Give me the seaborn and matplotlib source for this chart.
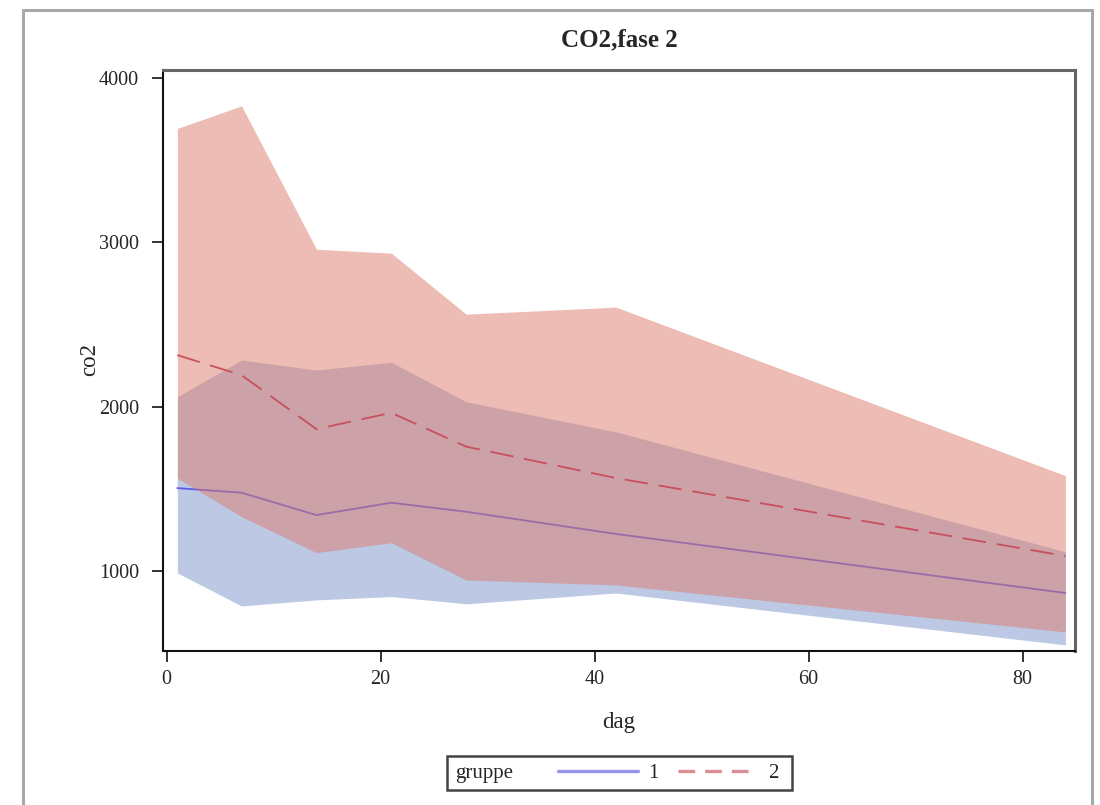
import matplotlib
matplotlib.use('Agg')
import matplotlib.pyplot as plt
import seaborn as sns
import pandas as pd
from matplotlib.lines import Line2D
from matplotlib.patches import Rectangle

# data
dag = [1, 7, 14, 21, 28, 42, 84]
g1_mean = [1504, 1476, 1340, 1415, 1360, 1225, 866]
g1_lower = [988, 787, 824, 844, 800, 866, 550]
g1_upper = [2060, 2283, 2222, 2270, 2029, 1846, 1117]
g2_mean = [2313, 2191, 1863, 1962, 1756, 1565, 1091]
g2_lower = [1565, 1330, 1111, 1172, 945, 915, 629]
g2_upper = [3692, 3829, 2957, 2933, 2562, 2605, 1580]
groups = ['1', '2']

df = pd.DataFrame({
    'dag': dag + dag,
    'co2': g1_mean + g2_mean,
    'gruppe': ['1'] * len(dag) + ['2'] * len(dag),
})

sns.set_style('white')
plt.rcParams['font.family'] = ['Liberation Serif', 'DejaVu Serif']

fig = plt.figure(figsize=(11, 8.05), dpi=100)
ax = fig.add_axes([0.1479, 0.1917, 0.8294, 0.7213])

line_col = {'1': '#5c5ce6', '2': '#c8505c'}
band_col = {'1': '#7b93cb', '2': '#dd7b6b'}

ax.fill_between(dag, g1_lower, g1_upper, color=band_col['1'], alpha=0.5, lw=0, zorder=1)
ax.fill_between(dag, g2_lower, g2_upper, color=band_col['2'], alpha=0.5, lw=0, zorder=3)

sns.lineplot(data=df, x='dag', y='co2', hue='gruppe', style='gruppe',
             palette=line_col, dashes={'1': '', '2': (13, 6)},
             linewidth=1.3, legend=False, ax=ax)
ax.lines[0].set_zorder(2)
ax.lines[1].set_zorder(4)

ax.set_xlim(-0.37, 84.9)
ax.set_ylim(515, 4047)
ax.set_xticks([0, 20, 40, 60, 80])
ax.set_yticks([1000, 2000, 3000, 4000])
ax.set_xlabel('')
ax.set_ylabel('')
ax.tick_params(axis='both', direction='out', length=8, width=1.4, color='#333333',
               labelsize=14.5, bottom=True, left=True)
ax.tick_params(axis='x', pad=6)
ax.tick_params(axis='y', pad=9)
for side in ['left', 'bottom']:
    ax.spines[side].set_color('#111111')
    ax.spines[side].set_linewidth(1.5)
for side in ['top', 'right']:
    ax.spines[side].set_color('#666666')
    ax.spines[side].set_linewidth(2.2)

fig.text(0.5627, 0.950, 'CO2,fase 2', ha='center', va='center', fontsize=18, fontweight='bold')
fig.text(0.5627, 1 - 722 / 805, 'dag', ha='center', va='center', fontsize=16.5)
fig.text(90 / 1100, 1 - 360 / 805, 'co2', ha='center', va='center', fontsize=16.5, rotation=90)

# outer frame of the graph
fig.add_artist(Line2D([23 / 1100, 23 / 1100], [0, 1 - 10 / 805], color='#a8a8a8', lw=2.2))
fig.add_artist(Line2D([23 / 1100, 1092 / 1100], [1 - 10 / 805, 1 - 10 / 805], color='#a8a8a8', lw=2.2))
fig.add_artist(Line2D([1092 / 1100, 1092 / 1100], [0, 1 - 10 / 805], color='#a8a8a8', lw=2.2))

# legend
fig.add_artist(Rectangle((447 / 1100, 1 - 790 / 805), 345 / 1100, 34 / 805,
                         transform=fig.transFigure, fill=False, ec='#444444', lw=1.8))
fig.text(455 / 1100, 1 - 773 / 805, 'gruppe', ha='left', va='center', fontsize=15)
handles = [Line2D([], [], color=line_col['1'], lw=2.4, alpha=0.65),
           Line2D([], [], color=line_col['2'], lw=2.4, alpha=0.65, dashes=(5, 3))]
fig.legend(handles, groups, ncol=2, frameon=False, loc='center left',
           bbox_to_anchor=(558 / 1100, 1 - 773 / 805), borderpad=0, borderaxespad=0,
           handlelength=3.85, handletextpad=0.5, columnspacing=0.9, fontsize=15)

fig.savefig('out.png', dpi=100)
